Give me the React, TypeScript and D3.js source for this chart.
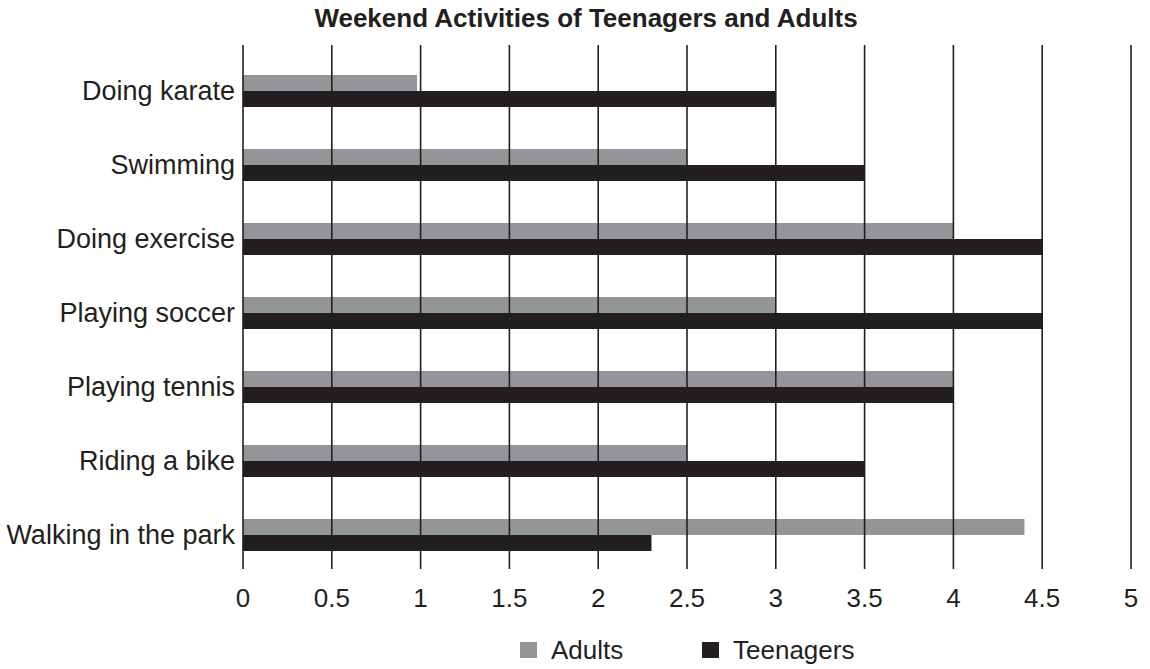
import React from "react";
import * as d3 from "d3";

const categories = [
  "Doing karate",
  "Swimming",
  "Doing exercise",
  "Playing soccer",
  "Playing tennis",
  "Riding a bike",
  "Walking in the park",
];
const adults = [0.98, 2.5, 4, 3, 4, 2.5, 4.4];
const teenagers = [3, 3.5, 4.5, 4.5, 4, 3.5, 2.3];
const xTicks = [0, 0.5, 1, 1.5, 2, 2.5, 3, 3.5, 4, 4.5, 5];
const seriesNames = ["Adults", "Teenagers"];
const seriesColors = ["#939598", "#231f20"];

const W = 1150;
const H = 669;
const FONT = "'Liberation Sans', Arial, Helvetica, sans-serif";

export default function App() {
  const x = d3.scaleLinear().domain([0, 5]).range([243, 1131]);
  const y = d3.scaleBand().domain(categories).range([54, 572]);
  const barH = 16;
  const gridTop = 45;
  const gridBottom = 569;
  const legendX = [520, 702];

  return (
    <svg
      width={W}
      height={H}
      style={{ position: "absolute", left: 0, top: 0, background: "#fff" }}
      fontFamily={FONT}
    >
      <text
        x={586}
        y={27}
        textAnchor="middle"
        fontWeight="bold"
        fontSize={26}
        fill="#231f20"
      >
        Weekend Activities of Teenagers and Adults
      </text>
      {categories.map((c, i) => {
        const cy = (y(c) as number) + y.bandwidth() / 2;
        return (
          <g key={c}>
            <rect
              x={x(0)}
              y={cy - barH}
              width={x(adults[i]) - x(0)}
              height={barH}
              fill={seriesColors[0]}
            />
            <rect
              x={x(0)}
              y={cy}
              width={x(teenagers[i]) - x(0)}
              height={barH}
              fill={seriesColors[1]}
            />
            <text
              x={235}
              y={cy}
              dy="0.35em"
              textAnchor="end"
              fontSize={27}
              fill="#231f20"
            >
              {c}
            </text>
          </g>
        );
      })}
      {xTicks.map((t) => (
        <g key={t}>
          <line
            x1={x(t)}
            x2={x(t)}
            y1={gridTop}
            y2={gridBottom}
            stroke="#231f20"
            strokeWidth={1.6}
          />
          <text
            x={x(t)}
            y={607}
            textAnchor="middle"
            fontSize={26}
            fill="#231f20"
          >
            {t}
          </text>
        </g>
      ))}
      {seriesNames.map((s, i) => {
        const lx = legendX[i];
        return (
          <g key={s}>
            <rect x={lx} y={642} width={17} height={16} fill={seriesColors[i]} />
            <text x={lx + 31} y={659} fontSize={26} fill="#231f20">
              {s}
            </text>
          </g>
        );
      })}
    </svg>
  );
}
